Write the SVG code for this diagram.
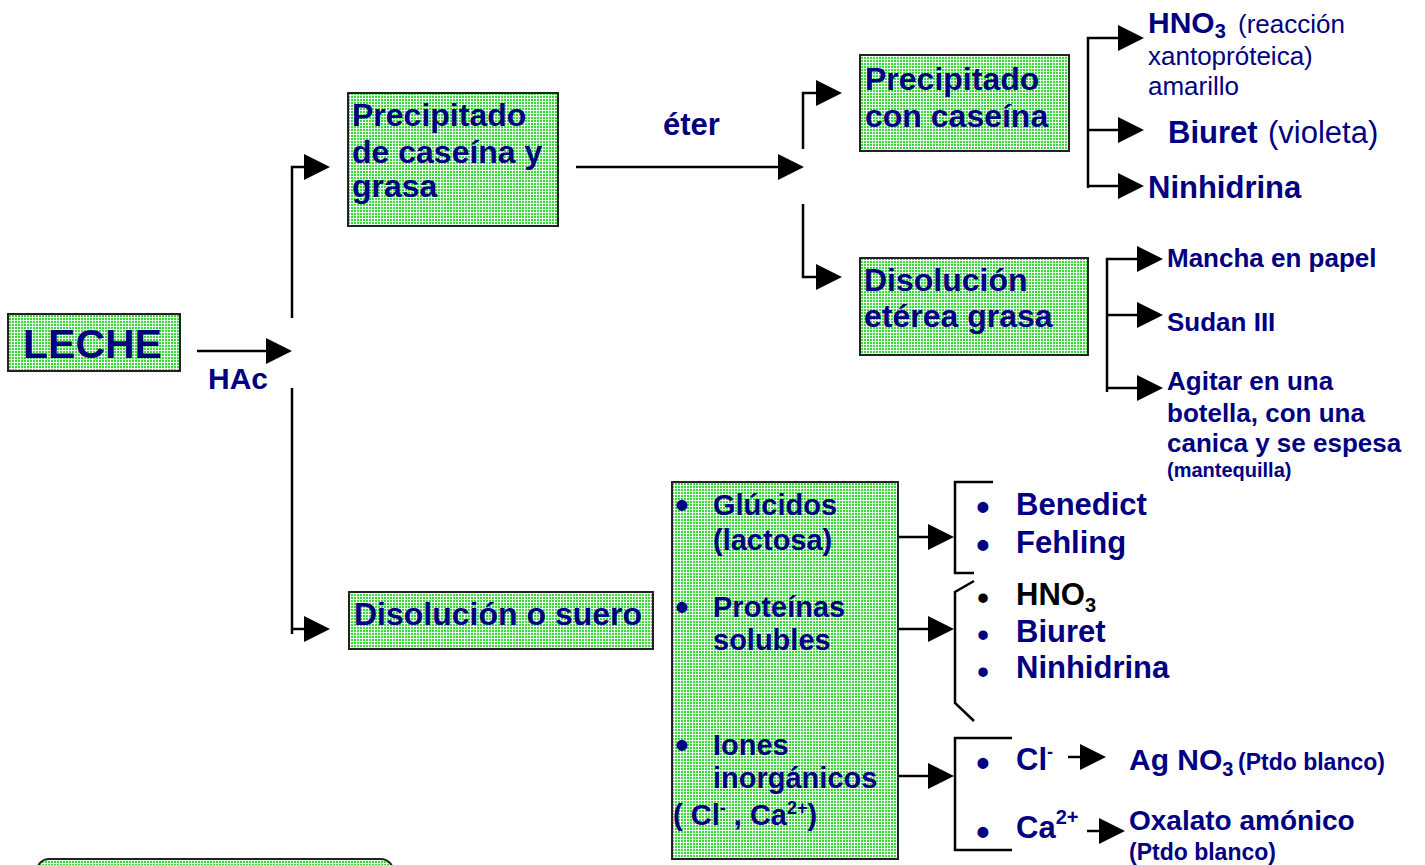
<svg xmlns="http://www.w3.org/2000/svg" width="1425" height="865" viewBox="0 0 1425 865">
<defs>
<pattern id="dots" width="3" height="3" patternUnits="userSpaceOnUse">
<rect width="3" height="3" fill="#e6ffe6"/>
<rect width="2" height="2" fill="#3ad83a"/>
</pattern>
<path id="ah" d="M0,-13 L26,0 L0,13 Z" fill="#000"/>
<style>
.t{font-family:"Liberation Sans",Arial,sans-serif;font-weight:bold;fill:#000080;}
.n{font-weight:normal;}
.box{fill:url(#dots);stroke:#222;stroke-width:2;}
.ln{stroke:#000;stroke-width:2.5;fill:none;}
.b32{font-size:32px;}
.b31{font-size:31px;}
.b29{font-size:29px;}
.b26{font-size:26px;}
.bul{font-size:38px;text-anchor:middle;}
.bs{font-size:33px;text-anchor:middle;}
</style>
</defs>
<rect width="1425" height="865" fill="#fff"/>

<g id="connectors">
<line class="ln" x1="197" y1="351" x2="266" y2="351"/>
<use href="#ah" x="266" y="351"/>
<path class="ln" d="M292,318 V167 H305"/>
<use href="#ah" x="304" y="167"/>
<path class="ln" d="M292,388 V634 M292,629 H305"/>
<use href="#ah" x="304" y="629"/>
<line class="ln" x1="576" y1="167" x2="779" y2="167"/>
<use href="#ah" x="778" y="167"/>
<path class="ln" d="M803,149 V93 H817"/>
<use href="#ah" x="816" y="93"/>
<path class="ln" d="M803,204 V277 H817"/>
<use href="#ah" x="816" y="277"/>
<path class="ln" d="M1088,188 V38 H1119 M1088,130 H1119 M1088,186 H1119"/>
<use href="#ah" x="1118" y="38"/>
<use href="#ah" x="1118" y="130"/>
<use href="#ah" x="1118" y="186"/>
<path class="ln" d="M1107,392 V259 H1138 M1107,315 H1138 M1107,388 H1138"/>
<use href="#ah" x="1137" y="259"/>
<use href="#ah" x="1137" y="315"/>
<use href="#ah" x="1137" y="388"/>
<path class="ln" d="M898,537 H929 M898,629 H929 M898,776 H929"/>
<use href="#ah" x="928" y="537"/>
<use href="#ah" x="928" y="629"/>
<use href="#ah" x="928" y="776"/>
<path class="ln" d="M993,482 H955 V573 H974"/>
<path class="ln" d="M974,581 L955,592 V703 L974,721"/>
<path class="ln" d="M1012,738 H955 V850 H1012"/>
<line class="ln" x1="1068" y1="757" x2="1081" y2="757"/>
<use href="#ah" x="1080" y="757"/>
<line class="ln" x1="1087" y1="831" x2="1100" y2="831"/>
<use href="#ah" x="1099" y="831"/>
</g>

<g id="leche">
<rect class="box" x="8" y="314" width="172" height="57"/>
<text class="t" x="23" y="358" font-size="41">LECHE</text>
</g>
<g id="hac"><text class="t" x="208" y="389" font-size="30">HAc</text></g>

<g id="precipitado">
<rect class="box" x="348" y="93" width="210" height="133"/>
<text class="t b32" x="352" y="126">Precipitado</text>
<text class="t b32" x="352" y="163">de caseína y</text>
<text class="t b32" x="352" y="197">grasa</text>
</g>
<g id="eter"><text class="t" x="663" y="135" font-size="31">éter</text></g>

<g id="prec-caseina">
<rect class="box" x="860" y="55" width="209" height="96"/>
<text class="t b32" x="865" y="90">Precipitado</text>
<text class="t b32" x="865" y="127">con caseína</text>
</g>

<g id="disol-eterea">
<rect class="box" x="860" y="258" width="228" height="97"/>
<text class="t b32" x="864" y="291">Disolución</text>
<text class="t b32" x="864" y="327">etérea grasa</text>
</g>

<g id="tests-caseina">
<text class="t" x="1148" y="33" font-size="30">HNO<tspan font-size="20" dy="5">3</tspan><tspan class="n" font-size="26" x="1238" dy="-5">(reacción</tspan></text>
<text class="t n" x="1148" y="65" font-size="26">xantopróteica)</text>
<text class="t n" x="1148" y="95" font-size="26">amarillo</text>
<text class="t b31" x="1168" y="143">Biuret<tspan class="n" x="1268">(violeta)</tspan></text>
<text class="t b31" x="1148" y="198">Ninhidrina</text>
</g>

<g id="tests-grasa">
<text class="t b26" x="1167" y="267">Mancha en papel</text>
<text class="t b26" x="1167" y="331">Sudan III</text>
<text class="t b26" x="1167" y="390">Agitar en una</text>
<text class="t b26" x="1167" y="422">botella, con una</text>
<text class="t b26" x="1167" y="452">canica y se espesa</text>
<text class="t" x="1167" y="477" font-size="20">(mantequilla)</text>
</g>

<g id="suero">
<rect class="box" x="349" y="592" width="304" height="57"/>
<text class="t b32" x="354" y="625">Disolución o suero</text>
</g>

<g id="componentes">
<rect class="box" x="672" y="482" width="226" height="377"/>
<text class="t bul"><tspan x="682" y="518">•</tspan><tspan x="682" y="620">•</tspan><tspan x="682" y="758">•</tspan></text>
<text class="t b29" x="713" y="515">Glúcidos</text>
<text class="t b29" x="713" y="550">(lactosa)</text>
<text class="t b29" x="713" y="617">Proteínas</text>
<text class="t b29" x="713" y="650">solubles</text>
<text class="t b29" x="713" y="755">Iones</text>
<text class="t b29" x="713" y="788">inorgánicos</text>
<text class="t b29" x="673" y="825">( Cl<tspan font-size="18" dy="-11">-</tspan><tspan dy="11"> , Ca</tspan><tspan font-size="18" dy="-11">2+</tspan><tspan dy="11">)</tspan></text>
</g>

<g id="tests-glucidos">
<text class="t bul"><tspan x="983" y="520">•</tspan><tspan x="983" y="558">•</tspan></text>
<text class="t b31" x="1016" y="515">Benedict</text>
<text class="t b31" x="1016" y="553">Fehling</text>
</g>

<g id="tests-proteinas">
<text class="t bs"><tspan x="983" y="609" style="fill:#000">•</tspan><tspan x="983" y="646">•</tspan><tspan x="983" y="683">•</tspan></text>
<text class="t b31" x="1016" y="605" style="fill:#000">HNO<tspan font-size="20" dy="7">3</tspan></text>
<text class="t b31" x="1016" y="642">Biuret</text>
<text class="t b31" x="1016" y="678">Ninhidrina</text>
</g>

<g id="tests-iones">
<text class="t bul"><tspan x="983" y="776">•</tspan><tspan x="983" y="845">•</tspan></text>
<text class="t b31" x="1016" y="770">Cl<tspan font-size="18" dy="-12">-</tspan></text>
<text class="t b31" x="1016" y="838">Ca<tspan font-size="20" dy="-14">2+</tspan></text>
<text class="t" x="1129" y="770" font-size="30">Ag NO<tspan font-size="20" dy="6">3</tspan><tspan font-size="23" x="1238" dy="-6">(Ptdo blanco)</tspan></text>
<text class="t" x="1129" y="830" font-size="28">Oxalato amónico</text>
<text class="t" x="1129" y="860" font-size="23">(Ptdo blanco)</text>
</g>

<g id="leyenda">
<rect class="box" x="37" y="859" width="356" height="40" rx="12"/>
</g>
</svg>
